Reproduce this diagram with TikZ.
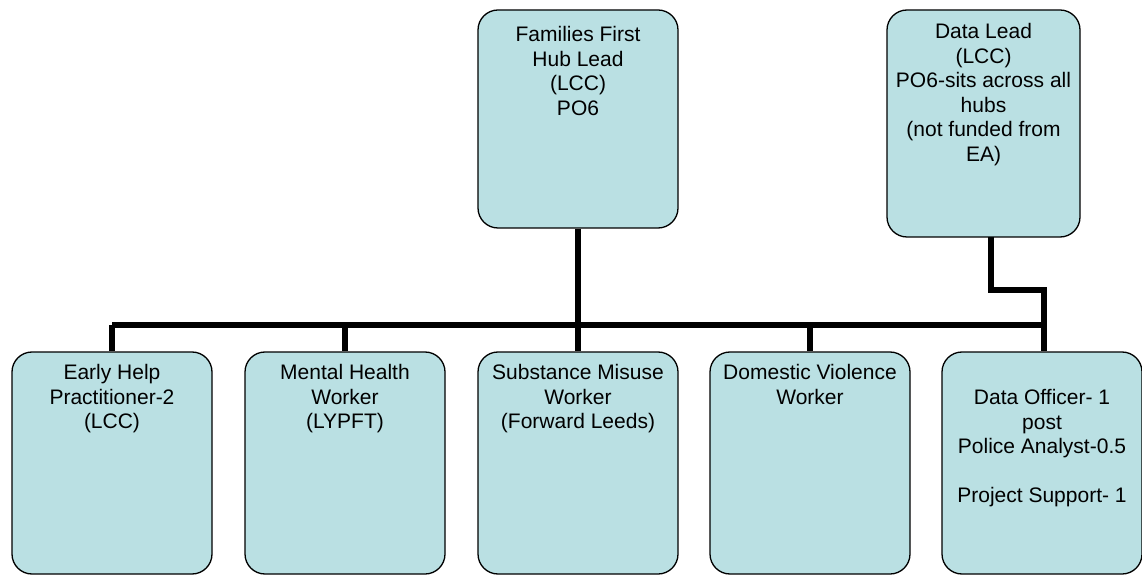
\documentclass[tikz,border=0pt]{standalone}
\usepackage{fontspec}
\setmainfont{Liberation Sans}
\definecolor{boxfill}{RGB}{186,224,227}
\begin{document}
\begin{tikzpicture}[x=1pt,y=1pt,
  orgbox/.style={draw=black, line width=1.3pt, fill=boxfill, rounded corners=20pt, inner sep=0pt},
  boxtext/.style={anchor=north, align=center, inner sep=0pt, font={\fontsize{21}{24.5}\selectfont}},
  conn/.style={line width=6pt, line join=miter}]
\useasboundingbox (0,0) rectangle (1142,576);
% top boxes
\node[orgbox, minimum width=200pt, minimum height=218pt] (ff) at (578,457) {};
\node[orgbox, minimum width=193pt, minimum height=227pt] (dl) at (983.5,452.5) {};
% bottom boxes
\node[orgbox, minimum width=200pt, minimum height=222pt] (eh) at (112,113) {};
\node[orgbox, minimum width=200pt, minimum height=222pt] (mh) at (345,113) {};
\node[orgbox, minimum width=200pt, minimum height=222pt] (sm) at (578,113) {};
\node[orgbox, minimum width=200pt, minimum height=222pt] (dv) at (810,113) {};
\node[orgbox, minimum width=200pt, minimum height=222pt] (do) at (1042,113) {};
% texts
\node[boxtext, below=17pt] (fft) at (ff.north) {Families First\\Hub Lead\\(LCC)\\PO6};
\node[boxtext, below=14pt] (dlt) at (dl.north) {Data Lead\\(LCC)\\PO6-sits across all\\hubs\\(not funded from\\EA)};
\node[boxtext, below=13pt] (eht) at (eh.north) {Early Help\\Practitioner-2\\(LCC)};
\node[boxtext, below=13pt] (mht) at (mh.north) {Mental Health\\Worker\\(LYPFT)};
\node[boxtext, below=13pt] (smt) at (sm.north) {Substance Misuse\\Worker\\(Forward Leeds)};
\node[boxtext, below=13pt] (dvt) at (dv.north) {Domestic Violence\\Worker};
\node[boxtext, below=38pt] (dot) at (do.north) {Data Officer- 1\\post\\Police Analyst-0.5\\[24.5pt]Project Support- 1};
% connectors
\coordinate (busL) at (112,251);
\coordinate (busR) at (1044,251);
\coordinate (ffb) at (578,251);
\draw[conn] (busL) -- (busR);
\draw[conn] (ff.south) -- (ffb);
\draw[conn] (ffb) -- (sm.north);
\draw[conn] (busL) -- (eh.north);
\draw[conn] (mh.north |- busL) -- (mh.north);
\draw[conn] (dv.north |- busL) -- (dv.north);
\coordinate (dlb) at (991,339);
\coordinate (dlk1) at (991,286);
\coordinate (dlk2) at (1044,286);
\draw[conn] (dlb) -- (dlk1) -- (dlk2) -- (do.north -| dlk2);
\end{tikzpicture}
\end{document}
